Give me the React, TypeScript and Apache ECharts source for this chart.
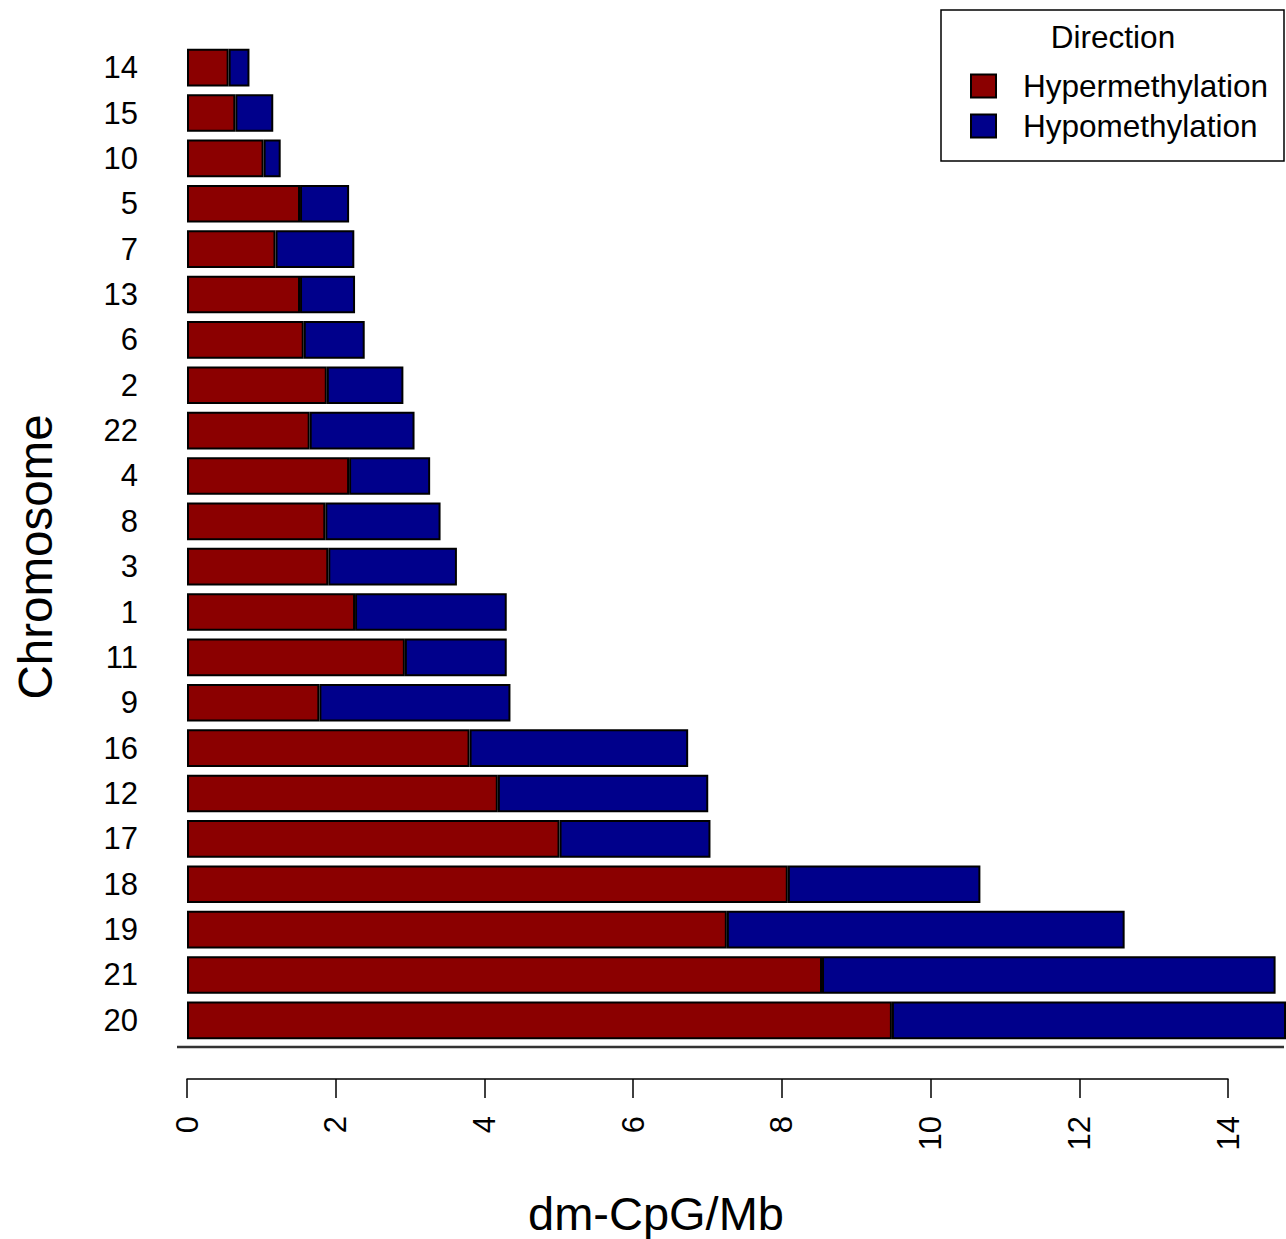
import React, { useEffect, useRef } from 'react';
import * as echarts from 'echarts';

const chromosomes = ['14', '15', '10', '5', '7', '13', '6', '2', '22', '4', '8', '3', '1', '11', '9', '16', '12', '17', '18', '19', '21', '20'];
const hyper = [0.56, 0.65, 1.03, 1.52, 1.19, 1.52, 1.57, 1.88, 1.65, 2.18, 1.86, 1.9, 2.26, 2.93, 1.78, 3.8, 4.18, 5.01, 8.08, 7.26, 8.54, 9.48];
const hypo = [0.28, 0.51, 0.23, 0.66, 1.06, 0.74, 0.82, 1.03, 1.41, 1.09, 1.55, 1.73, 2.04, 1.37, 2.57, 2.94, 2.83, 2.03, 2.59, 5.35, 6.1, 5.3];
const seriesNames = ['Hypermethylation', 'Hypomethylation'];
const legendTitle = 'Direction';
const xTitle = 'dm-CpG/Mb';
const yTitle = 'Chromosome';

const FONT = '"Liberation Sans", Arial, sans-serif';

export default function App() {
  const ref = useRef<HTMLDivElement>(null);
  useEffect(() => {
    document.body.style.margin = '0';
    const chart = echarts.init(ref.current!, null, { renderer: 'svg' });
    chart.setOption({
      animation: false,
      backgroundColor: '#fff',
      textStyle: { fontFamily: FONT },
      grid: [
        { left: 187, right: 0, top: 45, height: 998 },
        { left: 187, width: 1041, top: 1078, height: 1 },
      ],
      xAxis: [
        { type: 'value', gridIndex: 0, min: 0, max: 14.78, show: false },
        {
          type: 'value', gridIndex: 1, min: 0, max: 14, interval: 2,
          axisLine: { show: true, lineStyle: { color: '#000', width: 1.5 } },
          axisTick: { show: true, length: 19, lineStyle: { color: '#000', width: 1.5 } },
          axisLabel: { rotate: 90, margin: 37, fontSize: 31, color: '#000', fontFamily: FONT },
          splitLine: { show: false },
        },
      ],
      yAxis: [
        {
          type: 'category', gridIndex: 0, data: chromosomes, inverse: true,
          axisLine: { show: false }, axisTick: { show: false },
          axisLabel: { fontSize: 31, color: '#000', margin: 49, fontFamily: FONT },
        },
        { type: 'value', gridIndex: 1, min: 0, max: 1, show: false },
      ],
      legend: {
        orient: 'vertical',
        left: 970,
        top: 70,
        padding: 0,
        itemWidth: 25,
        itemHeight: 23,
        itemGap: 8,
        icon: 'rect',
        data: seriesNames,
        textStyle: { fontSize: 31.5, color: '#000', fontFamily: FONT, padding: [0, 0, 0, 22] },
      },
      series: [
        {
          name: seriesNames[0], type: 'bar', stack: 'total', data: hyper, barWidth: '83%',
          xAxisIndex: 0, yAxisIndex: 0,
          itemStyle: { color: '#8B0000', borderColor: '#000', borderWidth: 2 },
        },
        {
          name: seriesNames[1], type: 'bar', stack: 'total', data: hypo, barWidth: '83%',
          xAxisIndex: 0, yAxisIndex: 0,
          itemStyle: { color: '#00008B', borderColor: '#000', borderWidth: 2 },
        },
      ],
      graphic: [
        { type: 'line', shape: { x1: 177, y1: 1047, x2: 1284, y2: 1047 }, style: { stroke: '#333', lineWidth: 2.5 }, z: 10 },
        { type: 'rect', shape: { x: 941, y: 10, width: 343, height: 151 }, style: { fill: 'none', stroke: '#000', lineWidth: 1.5 }, z: 10 },
        { type: 'text', x: 1113, y: 37, style: { text: legendTitle, font: `31.5px ${FONT}`, fill: '#000', textAlign: 'center', textVerticalAlign: 'middle' }, z: 10 },
        { type: 'text', x: 656, y: 1213, style: { text: xTitle, font: `47px ${FONT}`, fill: '#000', textAlign: 'center', textVerticalAlign: 'middle' }, z: 10 },
        { type: 'text', x: 35, y: 557, rotation: Math.PI / 2, style: { text: yTitle, font: `47.5px ${FONT}`, fill: '#000', textAlign: 'center', textVerticalAlign: 'middle' }, z: 10 },
      ],
    });
    return () => chart.dispose();
  }, []);
  return <div ref={ref} style={{ width: 1286, height: 1239 }} />;
}
